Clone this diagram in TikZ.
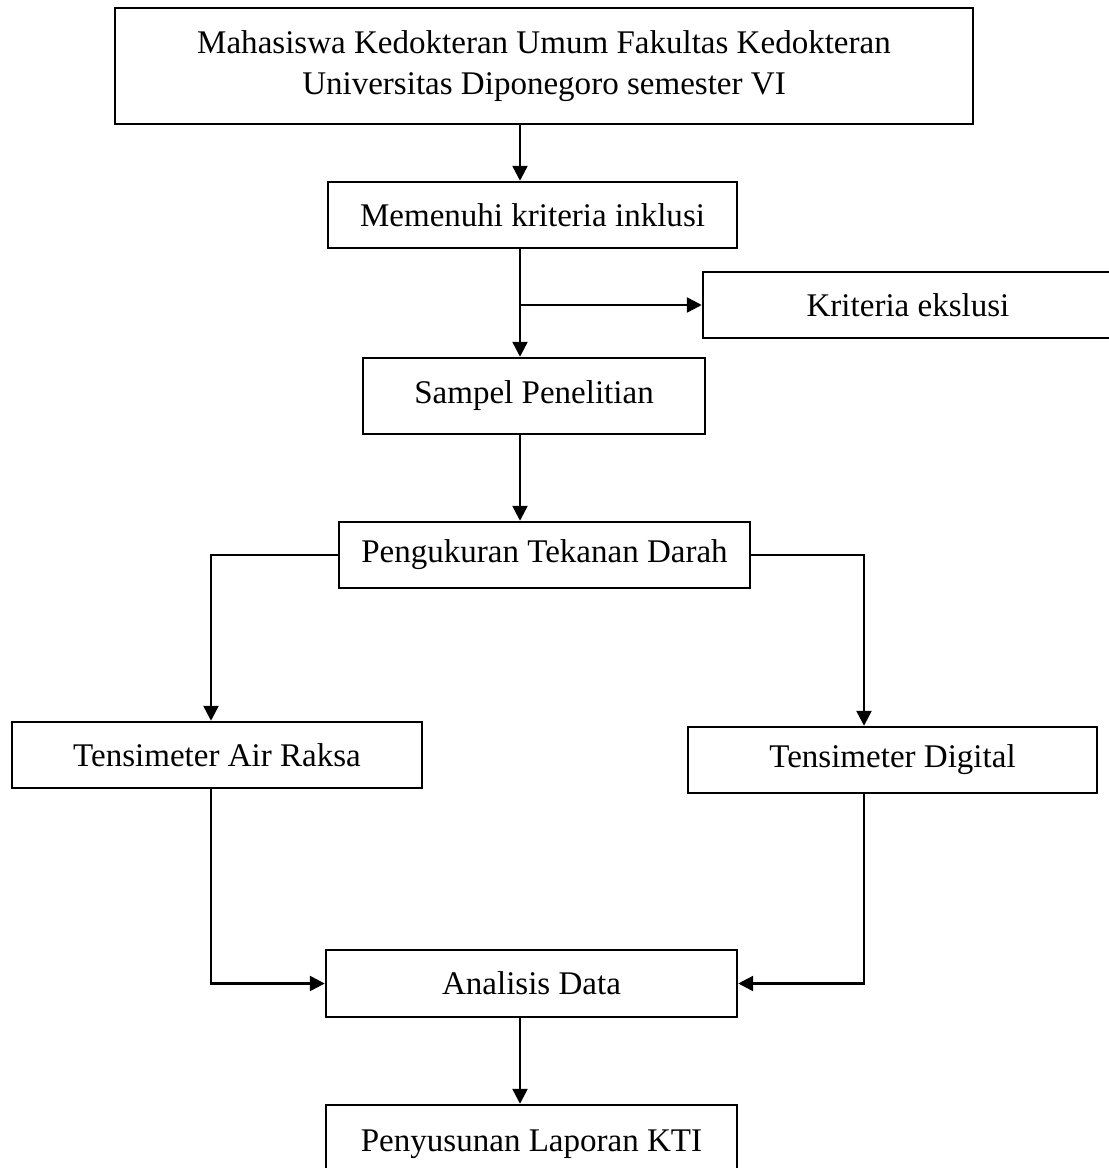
\documentclass[tikz,border=0pt]{standalone}
\usepackage{fontspec}
\setmainfont{Liberation Serif}
\usetikzlibrary{arrows.meta,positioning}

\tikzset{
  kotak/.style = {draw, line width=1.4pt, rectangle, align=center, inner sep=0pt,
    font=\fontsize{18.8pt}{23.3pt}\selectfont},
  panah/.style = {line width=1.4pt, -{Triangle[length=0.3cm, width=0.3cm]}}
}

\begin{document}
\begin{tikzpicture}
\useasboundingbox (0,0) rectangle (22.18,-23.36);

\node[kotak, minimum width=17.16cm, minimum height=2.32cm] (mhs) at (10.88,-1.32)
  {Mahasiswa Kedokteran Umum Fakultas Kedokteran\\Universitas Diponegoro semester VI};
\node[kotak, minimum width=8.18cm, minimum height=1.32cm] (inklusi) at (10.65,-4.30) {Memenuhi kriteria inklusi};
\node[kotak, minimum width=8.20cm, minimum height=1.32cm] (ekslusi) at (18.16,-6.10) {Kriteria ekslusi};
\node[kotak, minimum width=6.84cm, minimum height=1.52cm] (sampel) at (10.68,-7.92) {Sampel Penelitian};
\node[kotak, minimum width=8.22cm, minimum height=1.32cm] (ukur) at (10.89,-11.10) {Pengukuran Tekanan Darah};
\node[kotak, minimum width=8.20cm, minimum height=1.32cm] (raksa) at (4.34,-15.10) {Tensimeter Air Raksa};
\node[kotak, minimum width=8.18cm, minimum height=1.32cm] (digital) at (17.85,-15.20) {Tensimeter Digital};
\node[kotak, minimum width=8.22cm, minimum height=1.34cm] (analisis) at (10.63,-19.67) {Analisis Data};
\node[kotak, minimum width=8.22cm, minimum height=1.56cm] (laporan) at (10.63,-22.88) {Penyusunan Laporan KTI};

\coordinate (tengah) at (10.40,0);
\coordinate (kiri) at (4.22,0);
\coordinate (kanan) at (17.28,0);

\draw[panah] (mhs.south -| tengah) -- (inklusi.north -| tengah);
\draw[panah] (inklusi.south -| tengah) -- (sampel.north -| tengah);
\draw[panah] (tengah |- ekslusi.west) -- (ekslusi.west);
\draw[panah] (sampel.south -| tengah) -- (ukur.north -| tengah);
\draw[panah] (ukur.west) -| (raksa.north -| kiri);
\draw[panah] (ukur.east) -| (digital.north -| kanan);
\draw[panah] (raksa.south -| kiri) |- (analisis.west);
\draw[panah] (digital.south -| kanan) |- (analisis.east);
\draw[panah] (analisis.south -| tengah) -- (laporan.north -| tengah);

\end{tikzpicture}
\end{document}
